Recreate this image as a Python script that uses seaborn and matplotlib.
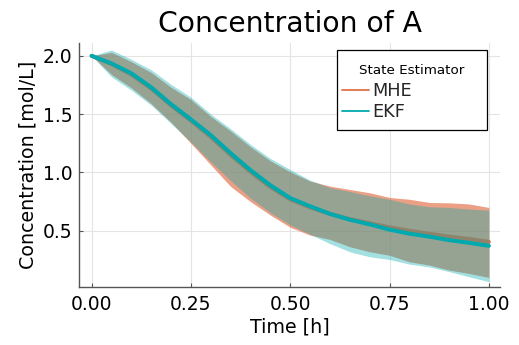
import numpy as np
import pandas as pd
import matplotlib
matplotlib.use("Agg")
import matplotlib.pyplot as plt
from matplotlib.lines import Line2D
from matplotlib.patches import Rectangle
import seaborn as sns

# Time grid [h]
time_h = [0.00, 0.05, 0.10, 0.15, 0.20, 0.25, 0.30, 0.35, 0.40, 0.45, 0.50,
          0.55, 0.60, 0.65, 0.70, 0.75, 0.80, 0.85, 0.90, 0.95, 1.00]

# Estimated concentration of A [mol/L] with its uncertainty band
mhe_mean = [2.00, 1.93, 1.84, 1.72, 1.575, 1.445, 1.305, 1.15, 1.005, 0.875, 0.77,
            0.700, 0.645, 0.600, 0.565, 0.530, 0.500, 0.475, 0.450, 0.430, 0.405]
mhe_upper = [2.00, 2.03, 1.95, 1.857, 1.73, 1.625, 1.48, 1.355, 1.22, 1.10, 1.005,
             0.926, 0.883, 0.854, 0.826, 0.786, 0.770, 0.743, 0.740, 0.730, 0.700]
mhe_lower = [2.00, 1.84, 1.726, 1.59, 1.43, 1.25, 1.065, 0.88, 0.75, 0.635, 0.53,
             0.463, 0.426, 0.363, 0.320, 0.290, 0.234, 0.206, 0.163, 0.134, 0.100]

ekf_mean = [2.00, 1.935, 1.85, 1.73, 1.585, 1.455, 1.32, 1.165, 1.02, 0.89, 0.78,
            0.710, 0.645, 0.595, 0.555, 0.510, 0.475, 0.450, 0.420, 0.397, 0.371]
ekf_upper = [2.00, 2.05, 1.97, 1.88, 1.755, 1.645, 1.50, 1.375, 1.24, 1.12, 1.025,
             0.934, 0.870, 0.837, 0.800, 0.770, 0.730, 0.706, 0.700, 0.686, 0.677]
ekf_lower = [2.00, 1.82, 1.706, 1.577, 1.42, 1.26, 1.09, 0.93, 0.78, 0.655, 0.55,
             0.470, 0.390, 0.320, 0.277, 0.254, 0.214, 0.190, 0.150, 0.106, 0.063]

estimators = ["MHE", "EKF"]
x_ticks = [0.00, 0.25, 0.50, 0.75, 1.00]
y_ticks = [0.5, 1.0, 1.5, 2.0]

colors = {"MHE": "#E26F46", "EKF": "#00A9AD"}
fill_alpha = {"MHE": 0.66, "EKF": 0.36}

df = pd.concat([
    pd.DataFrame({"Time": time_h, "Concentration": mhe_mean,
                  "lower": mhe_lower, "upper": mhe_upper, "Estimator": "MHE"}),
    pd.DataFrame({"Time": time_h, "Concentration": ekf_mean,
                  "lower": ekf_lower, "upper": ekf_upper, "Estimator": "EKF"}),
], ignore_index=True)

sns.set_theme(style="white")
plt.rcParams["font.family"] = ["DejaVu Sans"]

W, H = 519, 345
fig = plt.figure(figsize=(W / 100, H / 100), dpi=100)
ax = fig.add_axes([79.3 / W, 1 - 287 / H, (500 - 79.3) / W, (287 - 43) / H])

# ribbon then line for each estimator, later ones stacked on top
z = 2
for name in estimators:
    sub = df[df["Estimator"] == name]
    ax.fill_between(sub["Time"], sub["lower"], sub["upper"],
                    color=colors[name], alpha=fill_alpha[name],
                    linewidth=0, zorder=z)
    sns.lineplot(data=sub, x="Time", y="Concentration", color=colors[name],
                 linewidth=2.9, ax=ax, zorder=z + 1, legend=False,
                 errorbar=None)
    z += 2

ax.set_xlim(-0.031, 1.028)
ax.set_ylim(0.018, 2.11)
ax.set_xticks(x_ticks)
ax.set_xticklabels([f"{v:.2f}" for v in x_ticks])
ax.set_yticks(y_ticks)
ax.set_yticklabels([f"{v:.1f}" for v in y_ticks])

ax.grid(True, color="#E4E4E4", linewidth=0.8, zorder=0)
ax.set_axisbelow(True)
for side in ["top", "right"]:
    ax.spines[side].set_visible(False)
for side in ["left", "bottom"]:
    ax.spines[side].set_color("#555555")
    ax.spines[side].set_linewidth(1.0)
ax.tick_params(axis="both", direction="in", length=3, width=0.8,
               color="#555555", labelsize=13.5, labelcolor="black",
               bottom=True, left=True)
ax.tick_params(axis="x", pad=6)
ax.tick_params(axis="y", pad=4.8)

ax.set_title("Concentration of A", fontsize=20.3, color="black", pad=8)
ax.set_xlabel("Time [h]", fontsize=13.7, color="black", labelpad=2)
ax.set_ylabel("Concentration [mol/L]", fontsize=13.7, color="black", labelpad=4)

# legend box with its title centred in it
box = Rectangle((337.3 / W, 1 - 130 / H), 149.4 / W, 80 / H,
                transform=fig.transFigure, facecolor="white",
                edgecolor="black", linewidth=0.9, zorder=5)
fig.add_artist(box)
fig.text(412 / W, 1 - 70.7 / H, "State Estimator", fontsize=9.7,
         color="black", ha="center", va="center", zorder=6)
handles = [Line2D([0], [0], color=colors[n], linewidth=1.3) for n in estimators]
leg = fig.legend(handles, estimators, loc="upper left",
                 bbox_to_anchor=(341.7 / W, 1 - 82.5 / H),
                 fontsize=12.8, frameon=False, borderpad=0,
                 handlelength=1.52, handletextpad=0.22, labelspacing=0.16,
                 borderaxespad=0.0)
leg.set_zorder(7)

fig.savefig("out.png", dpi=100)
